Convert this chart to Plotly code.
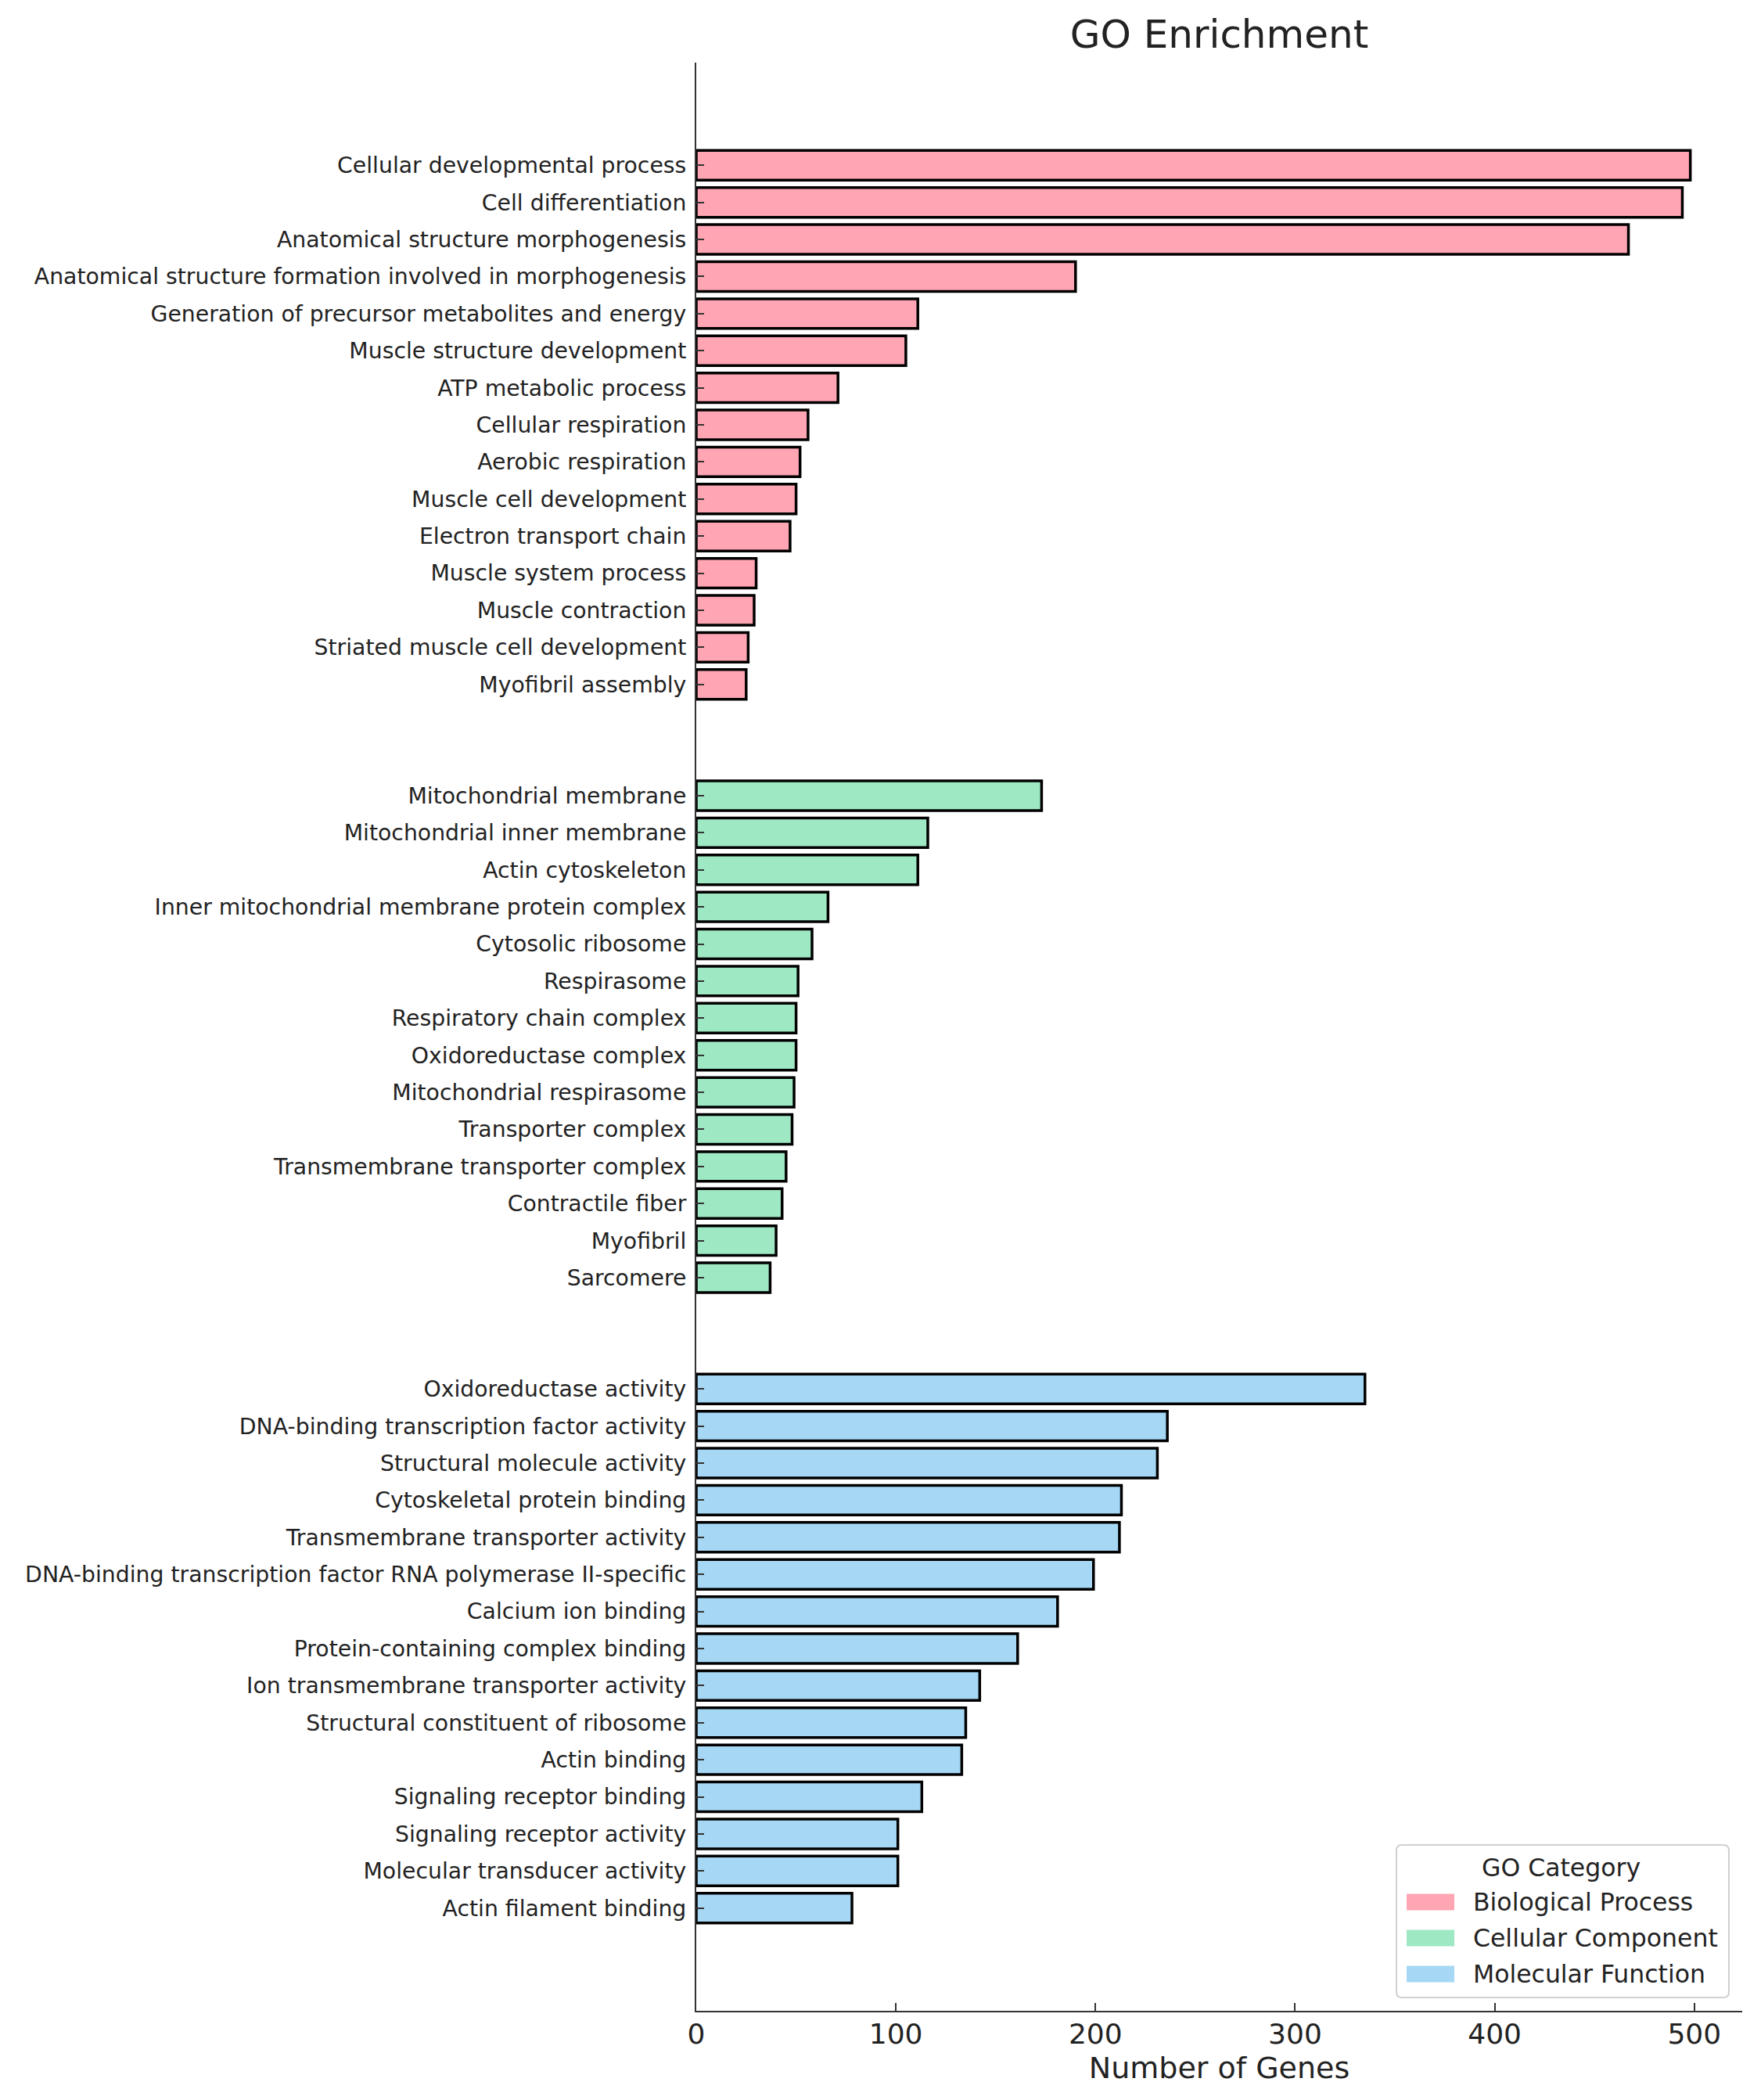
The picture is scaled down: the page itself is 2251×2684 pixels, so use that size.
import plotly.graph_objects as go

# GO terms per category, top to bottom, with gene counts
bp_terms = [
    "Cellular developmental process",
    "Cell differentiation",
    "Anatomical structure morphogenesis",
    "Anatomical structure formation involved in morphogenesis",
    "Generation of precursor metabolites and energy",
    "Muscle structure development",
    "ATP metabolic process",
    "Cellular respiration",
    "Aerobic respiration",
    "Muscle cell development",
    "Electron transport chain",
    "Muscle system process",
    "Muscle contraction",
    "Striated muscle cell development",
    "Myofibril assembly",
]
bp_counts = [498, 494, 467, 190, 111, 105, 71, 56, 52, 50, 47, 30, 29, 26, 25]

cc_terms = [
    "Mitochondrial membrane",
    "Mitochondrial inner membrane",
    "Actin cytoskeleton",
    "Inner mitochondrial membrane protein complex",
    "Cytosolic ribosome",
    "Respirasome",
    "Respiratory chain complex",
    "Oxidoreductase complex",
    "Mitochondrial respirasome",
    "Transporter complex",
    "Transmembrane transporter complex",
    "Contractile fiber",
    "Myofibril",
    "Sarcomere",
]
cc_counts = [173, 116, 111, 66, 58, 51, 50, 50, 49, 48, 45, 43, 40, 37]

mf_terms = [
    "Oxidoreductase activity",
    "DNA-binding transcription factor activity",
    "Structural molecule activity",
    "Cytoskeletal protein binding",
    "Transmembrane transporter activity",
    "DNA-binding transcription factor RNA polymerase II-specific",
    "Calcium ion binding",
    "Protein-containing complex binding",
    "Ion transmembrane transporter activity",
    "Structural constituent of ribosome",
    "Actin binding",
    "Signaling receptor binding",
    "Signaling receptor activity",
    "Molecular transducer activity",
    "Actin filament binding",
]
mf_counts = [335, 236, 231, 213, 212, 199, 181, 161, 142, 135, 133, 113, 101, 101, 78]

categories = ["Biological Process", "Cellular Component", "Molecular Function"]
colors = ["#FFA5B3", "#9EE9C4", "#A6D8F5"]
x_ticks = [0, 100, 200, 300, 400, 500]

FONT = "DejaVu Sans"
TEXT = "#222222"
GAP = 2  # empty rows between categories

# figure / plot area geometry (pixels)
FIG_W, FIG_H = 2251, 2684
L, T, B = 882, 72, 122
PLOT_W = 1337
R = FIG_W - L - PLOT_W
PLOT_H = FIG_H - T - B


def px(dx):
    return dx / PLOT_W


def py(dy):
    return dy / PLOT_H


groups = [(bp_terms, bp_counts), (cc_terms, cc_counts), (mf_terms, mf_counts)]

fig = go.Figure()
tickvals, ticktext = [], []
start = 0
for (terms, counts), name, color in zip(groups, categories, colors):
    pos = list(range(start, start + len(terms)))
    tickvals += pos
    ticktext += terms
    fig.add_trace(go.Bar(
        x=counts,
        y=pos,
        orientation="h",
        width=0.8,
        name=name,
        marker=dict(color=color, line=dict(color="black", width=3.5)),
        showlegend=False,
    ))
    start += len(terms) + GAP

last = tickvals[-1]
pad = 2.77

# hand-drawn legend box (matplotlib style) in the lower right corner
bx0, bx1, by0, by1, rad = px(895), px(1320), py(17), py(212), 7
rx, ry = px(rad), py(rad)
box_path = (
    f"M{bx0 + rx},{by0} L{bx1 - rx},{by0} Q{bx1},{by0} {bx1},{by0 + ry} "
    f"L{bx1},{by1 - ry} Q{bx1},{by1} {bx1 - rx},{by1} "
    f"L{bx0 + rx},{by1} Q{bx0},{by1} {bx0},{by1 - ry} "
    f"L{bx0},{by0 + ry} Q{bx0},{by0} {bx0 + rx},{by0} Z"
)
shapes = [dict(type="path", xref="paper", yref="paper", path=box_path,
               fillcolor="rgba(255,255,255,0.85)",
               line=dict(color="#d0d0d0", width=2), layer="above")]
annotations = [dict(text="GO Category", xref="paper", yref="paper",
                    x=px(1105), y=py(183), xanchor="center", yanchor="middle",
                    showarrow=False, font=dict(size=31.5, family=FONT, color=TEXT))]
for i, (name, color) in enumerate(zip(categories, colors)):
    yc = 139 - 46 * i
    shapes.append(dict(type="rect", xref="paper", yref="paper",
                       x0=px(908), x1=px(969), y0=py(yc - 10.5), y1=py(yc + 10.5),
                       fillcolor=color, line=dict(width=0), layer="above"))
    annotations.append(dict(text=name, xref="paper", yref="paper",
                            x=px(991), y=py(yc), xanchor="left", yanchor="middle",
                            showarrow=False,
                            font=dict(size=31.5, family=FONT, color=TEXT)))

fig.update_layout(
    width=FIG_W,
    height=FIG_H,
    paper_bgcolor="white",
    plot_bgcolor="white",
    barmode="overlay",
    showlegend=False,
    margin=dict(l=L, r=R, t=T, b=B),
    font=dict(family=FONT, color=TEXT),
    title=dict(
        text="GO Enrichment",
        x=0.5, xref="paper", xanchor="center",
        y=1 - 35 / FIG_H, yref="container", yanchor="middle",
        font=dict(size=50, family=FONT, color=TEXT),
    ),
    xaxis=dict(
        range=[0, 524],
        tickvals=x_ticks,
        ticks="inside", ticklen=10, tickwidth=2, tickcolor="#333333",
        tickfont=dict(size=36),
        ticklabelstandoff=-3,
        showline=True, linecolor="#333333", linewidth=2,
        showgrid=False, zeroline=False,
        title=dict(text="Number of Genes", font=dict(size=38), standoff=10),
        automargin=False,
    ),
    yaxis=dict(
        range=[last + pad, -pad],
        tickvals=tickvals,
        ticktext=ticktext,
        ticks="inside", ticklen=10, tickwidth=2, tickcolor="#333333",
        tickfont=dict(size=28.3),
        ticklabelstandoff=5,
        showline=True, linecolor="#333333", linewidth=2,
        showgrid=False, zeroline=False,
        automargin=False,
    ),
    shapes=shapes,
    annotations=annotations,
)

fig.write_html("out.html")
